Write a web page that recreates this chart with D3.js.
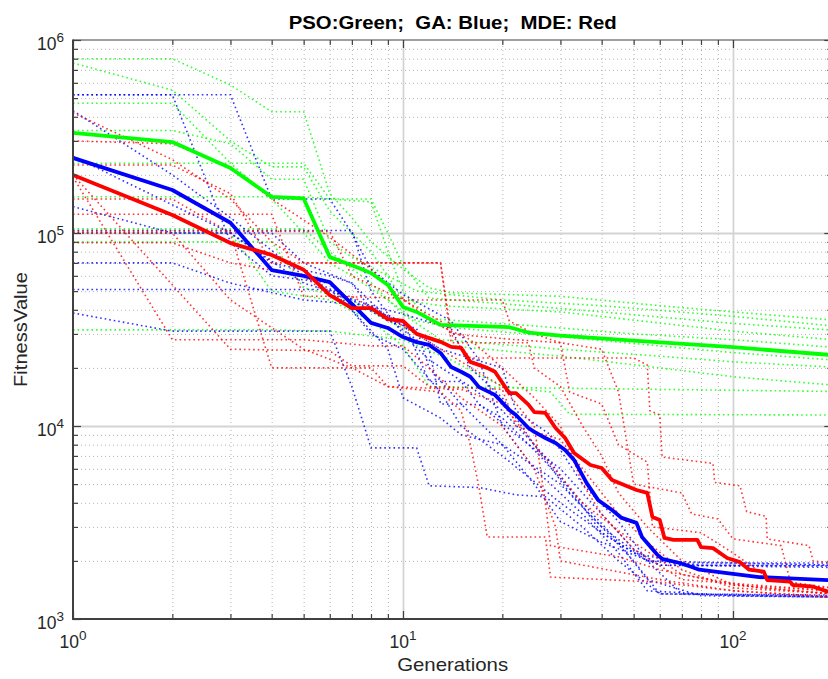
<!DOCTYPE html>
<html><head><meta charset="utf-8">
<script src="https://cdn.jsdelivr.net/npm/d3@7"></script>
<style>body{margin:0;background:#fff}svg{display:block}text{font-family:"Liberation Sans",Arial,Helvetica,sans-serif}</style>
</head><body><svg id="c" width="828" height="679"></svg>
<script>
// ---------- data ----------
const titleText = "PSO:Green;  GA: Blue;  MDE: Red";
const xLabel = "Generations";
const yLabel = "FitnessValue";
const xTickExp = [0, 1, 2];
const yTickExp = [3, 4, 5, 6];

const psoMeanGen = [1,2,3,4,5,6,7,8,9,10,11,13,21,24,30,50,100,200];
const psoMeanVal = [330000,296000,217000,154000,151000,75000,68000,62000,53800,41400,39000,33400,32500,30500,29400,27700,25600,23300];

const gaMeanGen = [1,2,3,4,5,6,8,9,10,11,12,13,14,15,16,17,19,21,22,24,25,27,29,31,33,36,39,43,46,51,53,59,61,69,75,79,96,120,200];
const gaMeanVal = [245000,167000,113000,64300,60000,55700,34200,32200,28900,27200,26300,23900,20200,19100,18000,15900,14500,12100,11400,9770,9320,8670,8170,7510,6670,5070,4140,3670,3340,3150,2660,2150,2050,1950,1860,1800,1730,1650,1585];

const mdeMeanGen = [1,2,3,4,5,6,7,8,9,10,11,13,14,15,16,18,19,21,22,24,25,27,29,31,33,37,40,43,51,55,57,60,62,66,78,80,87,96,105,112,124,127,149,152,175,193,200];
const mdeMeanVal = [200000,124000,88700,77000,64500,47700,40800,40800,35800,35000,30000,27300,25700,25400,21500,20000,19100,14800,14800,12900,11800,11700,9770,8670,7240,6280,6060,5250,4660,4500,3380,3260,2630,2570,2570,2360,2330,2070,1970,1800,1760,1590,1560,1500,1470,1390,1370];

// individual runs: [generation, fitness]
const psoRuns = [
 [[1,8.0e5],[2,8.0e5],[3,5.85e5],[4,4.25e5],[5,4.25e5],[6,1.6e5],[7,1.2e5],[8,9.0e4],[10,6.5e4],[12,5.2e4],[14,4.9e4],[30,4.7e4],[60,4.2e4],[100,3.9e4],[200,3.54e4]],
 [[1,7.6e5],[2,5.5e5],[3,3.0e5],[4,2.2e5],[5,2.2e5],[6,1.3e5],[7,1.0e5],[8,8.0e4],[9,6.0e4],[11,5.0e4],[20,4.5e4],[40,4.2e4],[100,3.7e4],[200,3.3e4]],
 [[1,4.7e5],[2,4.7e5],[3,2.3e5],[5,2.3e5],[6,1.5e5],[8,1.5e5],[9,1.0e5],[10,6.8e4],[12,4.6e4],[20,4.3e4],[40,3.9e4],[100,3.4e4],[200,3.14e4]],
 [[1,3.4e5],[2,3.4e5],[3,2.9e5],[4,1.9e5],[5,1.9e5],[6,9.0e4],[7,7.5e4],[9,6.0e4],[10,4.5e4],[13,4.2e4],[30,3.9e4],[100,3.1e4],[200,2.8e4]],
 [[1,1.54e5],[5,1.54e5],[6,1.5e5],[8,1.45e5],[9,8.0e4],[10,5.0e4],[12,3.6e4],[25,3.3e4],[50,3.0e4],[100,2.8e4],[200,2.56e4]],
 [[1,2.3e5],[3,2.3e5],[4,1.5e5],[5,1.0e5],[6,7.0e4],[7,6.0e4],[9,4.5e4],[11,3.5e4],[15,3.2e4],[30,2.9e4],[60,2.6e4],[100,2.4e4],[200,2.2e4]],
 [[1,1.05e5],[5,1.05e5],[6,8.0e4],[8,5.5e4],[10,3.8e4],[13,2.8e4],[30,2.5e4],[60,2.3e4],[100,2.15e4],[200,2.02e4]],
 [[1,9.0e4],[4,9.0e4],[5,5.2e4],[7,4.5e4],[9,3.5e4],[11,3.0e4],[14,2.6e4],[30,2.3e4],[60,2.0e4],[100,1.8e4],[200,1.63e4]],
 [[1,1.0e5],[3,1.0e5],[4,5.0e4],[6,4.5e4],[8,3.5e4],[10,2.6e4],[12,1.6e4],[200,1.51e4]],
 [[1,3.15e4],[4,3.15e4],[6,3.1e4],[10,2.8e4],[14,2.2e4],[20,1.6e4],[28,1.5e4],[32,1.15e4],[200,1.14e4]]
];
const gaRuns = [
 [[1,5.2e5],[2,5.2e5],[3,9.0e4],[4,6.0e4],[6,5.5e4],[8,3.0e4],[10,2.5e4],[13,1.5e4],[15,1.0e4],[20,7.0e3],[30,4.0e3],[40,2.8e3],[55,2.0e3],[80,1.9e3],[200,1.88e3]],
 [[1,5.2e5],[3,5.2e5],[4,1.5e5],[6,1.5e5],[7,1.0e5],[8,6.5e4],[10,4.8e4],[14,3.5e4],[17,2.2e4],[20,1.0e4],[25,6.0e3],[35,3.5e3],[45,2.2e3],[55,1.4e3],[100,1.32e3],[200,1.3e3]],
 [[1,4.3e5],[2,2.0e5],[3,1.2e5],[5,6.0e4],[7,4.5e4],[9,3.5e4],[11,3.2e4],[12,2.0e4],[15,1.3e4],[20,8.0e3],[30,5.0e3],[40,3.0e3],[50,2.0e3],[60,1.35e3],[200,1.33e3]],
 [[1,1.03e5],[7,1.03e5],[8,5.0e4],[10,3.0e4],[12,2.2e4],[16,1.6e4],[20,1.2e4],[28,6.5e3],[40,2.8e3],[50,2.2e3],[70,1.95e3],[200,1.95e3]],
 [[1,7.0e4],[2,7.0e4],[3,5.5e4],[5,4.5e4],[8,4.2e4],[11,3.0e4],[13,2.5e4],[20,2.0e4],[22,1.2e4],[28,9.0e3],[35,5.0e3],[45,3.2e3],[55,2.0e3],[70,1.35e3],[200,1.32e3]],
 [[1,5.1e4],[6,5.1e4],[7,4.0e4],[9,2.5e4],[10,1.4e4],[13,1.1e4],[15,9.0e3],[20,8.0e3],[25,5.0e3],[30,3.2e3],[40,2.5e3],[60,1.9e3],[200,1.85e3]],
 [[1,3.85e4],[2,3.1e4],[6,3.1e4],[7,1.6e4],[8,7.7e3],[11,7.7e3],[12,4.9e3],[17,4.8e3],[22,4.4e3],[27,4.3e3],[35,3.0e3],[45,2.0e3],[60,1.35e3],[200,1.3e3]],
 [[1,2.5e5],[2,1.4e5],[3,1.0e5],[5,5.5e4],[6,5.0e4],[8,4.2e4],[10,3.8e4],[14,3.2e4],[16,2.0e4],[20,1.4e4],[25,8.0e3],[32,4.5e3],[40,3.0e3],[55,2.0e3],[200,1.9e3]],
 [[1,1.37e5],[2,1.0e5],[4,1.0e5],[5,7.0e4],[7,5.5e4],[8,4.0e4],[10,3.5e4],[12,1.7e4],[15,1.7e4],[17,1.3e4],[22,9.0e3],[30,6.0e3],[40,3.5e3],[50,2.3e3],[60,1.9e3],[200,1.9e3]],
 [[1,1.0e5],[3,1.0e5],[4,7.0e4],[6,6.0e4],[7,5.5e4],[9,3.6e4],[12,2.5e4],[13,1.3e4],[17,1.29e4],[20,1.1e4],[26,7.0e3],[35,4.0e3],[45,2.5e3],[55,1.6e3],[80,1.32e3],[200,1.3e3]]
];
const mdeRuns = [
 [[1,4.2e5],[2,2.4e5],[3,1.5e5],[4,9.0e4],[5,7.0e4],[13,7.0e4],[14,2.7e4],[24,2.7e4],[25,2.0e4],[30,1.6e4],[35,1.0e4],[40,7.0e3],[45,4.5e3],[55,3.0e3],[70,2.0e3],[100,1.5e3],[200,1.4e3]],
 [[1,3.0e5],[2,2.9e5],[3,2.2e5],[4,1.5e5],[6,9.5e4],[8,6.5e4],[10,4.5e4],[13,3.5e4],[16,2.25e4],[50,2.25e4],[55,2.07e4],[56,1.2e4],[60,1.14e4],[61,6.9e3],[87,6.4e3],[88,5.1e3],[105,4.9e3],[110,3.6e3],[126,3.4e3],[127,2.6e3],[170,2.4e3],[175,2.0e3],[200,1.95e3]],
 [[1,1.0e5],[2,1.0e5],[3,4.5e4],[5,2.5e4],[7,2.0e4],[9,1.6e4],[13,1.5e4],[15,1.2e4],[16,8.0e3],[17,4.8e3],[18,2.66e3],[27,2.66e3],[28,1.65e3],[60,1.55e3],[100,1.4e3],[200,1.3e3]],
 [[1,1.25e5],[4,1.25e5],[5,4.7e4],[7,4.7e4],[10,3.3e4],[13,2.5e4],[20,1.6e4],[25,1.0e4],[27,4.0e3],[28,2.4e3],[45,2.1e3],[60,1.8e3],[100,1.5e3],[200,1.35e3]],
 [[1,1.95e5],[2,2.8e4],[5,2.8e4],[8,2.6e4],[10,2.6e4],[12,2.0e4],[15,1.4e4],[20,1.0e4],[25,6.0e3],[29,3.0e3],[30,2.0e3],[60,1.6e3],[100,1.4e3],[200,1.3e3]],
 [[1,2.0e5],[3,2.5e4],[6,2.45e4],[7,2.05e4],[10,2.05e4],[12,1.6e4],[20,1.55e4],[22,1.0e4],[30,8.5e3],[35,6.0e3],[45,3.5e3],[55,2.5e3],[70,1.8e3],[100,1.45e3],[200,1.35e3]],
 [[1,1.5e5],[2,1.5e5],[3,1.0e5],[4,2.0e4],[8,2.0e4],[9,1.6e4],[15,1.55e4],[20,1.3e4],[25,8.0e3],[35,4.0e3],[50,2.5e3],[70,1.7e3],[120,1.45e3],[200,1.35e3]],
 [[1,2.25e5],[2,2.25e5],[3,1.6e5],[4,7.0e4],[13,7.0e4],[14,3.0e4],[22,2.8e4],[30,2.7e4],[32,1.5e4],[40,1.3e4],[45,8.0e3],[55,6.5e3],[57,3.0e3],[80,2.8e3],[100,2.2e3],[130,1.6e3],[200,1.45e3]],
 [[1,8.9e4],[2,8.9e4],[3,7.0e4],[5,6.0e4],[6,4.7e4],[10,4.6e4],[12,3.5e4],[16,2.8e4],[20,2.0e4],[25,1.4e4],[30,1.0e4],[35,5.0e3],[40,3.5e3],[50,2.3e3],[70,1.6e3],[200,1.4e3]],
 [[1,1.02e5],[6,1.02e5],[7,6.0e4],[10,4.5e4],[20,4.5e4],[21,3.5e4],[25,3.0e4],[30,2.7e4],[40,2.5e4],[45,1.5e4],[50,5.0e3],[70,4.5e3],[75,3.5e3],[90,3.3e3],[100,2.6e3],[140,2.4e3],[150,1.5e3],[200,1.45e3]]
];

// ---------- chart ----------
const svg = d3.select('#c');
const L = 73, R = 832.3, T = 40, B = 619;
const x = d3.scaleLog().domain([1, 200]).range([L, R]);
const y = d3.scaleLog().domain([1e3, 1e6]).range([B, T]);

const xMajor = xTickExp.map(e => Math.pow(10, e));
const yMajor = yTickExp.map(e => Math.pow(10, e));
const xMinor = [], yMinor = [];
xMajor.forEach(d => { for (let k = 2; k <= 9; k++) if (k * d < 200) xMinor.push(k * d); });
yMajor.slice(0, 3).forEach(d => { for (let k = 2; k <= 9; k++) yMinor.push(k * d); });

const defs = svg.append('defs');
defs.append('clipPath').attr('id', 'clip').append('rect')
  .attr('x', L).attr('y', T).attr('width', R - L).attr('height', B - T);

// grid
function grid(axis, tr) {
  const g = svg.append('g').attr('transform', tr).call(axis);
  g.select('.domain').remove();
  g.selectAll('text').remove();
  return g.selectAll('line');
}
grid(d3.axisBottom(x).tickValues(xMinor).tickSize(-(B - T)).tickFormat(''), `translate(0,${B})`)
  .attr('stroke', '#b4b4b4').attr('stroke-width', 1).attr('stroke-dasharray', '1,3');
grid(d3.axisLeft(y).tickValues(yMinor).tickSize(-(R - L)).tickFormat(''), `translate(${L},0)`)
  .attr('stroke', '#b4b4b4').attr('stroke-width', 1).attr('stroke-dasharray', '1,3');
grid(d3.axisBottom(x).tickValues(xMajor.slice(1)).tickSize(-(B - T)).tickFormat(''), `translate(0,${B})`)
  .attr('stroke', '#d4d4d4').attr('stroke-width', 1.8);
grid(d3.axisLeft(y).tickValues(yMajor.slice(1, 3)).tickSize(-(R - L)).tickFormat(''), `translate(${L},0)`)
  .attr('stroke', '#d4d4d4').attr('stroke-width', 1.8);

// lines
const line = d3.line().x(d => x(d[0])).y(d => y(d[1]));
const plot = svg.append('g').attr('clip-path', 'url(#clip)');
const runSets = [[psoRuns, '#00ff00'], [gaRuns, '#0000ff'], [mdeRuns, '#ff0000']];
runSets.forEach(([runs, col]) => {
  plot.selectAll(null).data(runs).enter().append('path')
    .attr('d', line).attr('fill', 'none').attr('stroke', col)
    .attr('stroke-width', 1.6).attr('stroke-dasharray', '1.6,3').attr('opacity', 0.8);
});
const means = [[psoMeanGen, psoMeanVal, '#00ff00'], [gaMeanGen, gaMeanVal, '#0000ff'], [mdeMeanGen, mdeMeanVal, '#ff0000']];
means.forEach(([gs, vs, col]) => {
  plot.append('path').datum(gs.map((g, i) => [g, vs[i]]))
    .attr('d', line).attr('fill', 'none').attr('stroke', col)
    .attr('stroke-width', 3.8).attr('stroke-linejoin', 'round');
});

// axes (ticks inward)
function ticks(axis, tr) {
  const g = svg.append('g').attr('transform', tr).call(axis);
  g.select('.domain').remove();
  g.selectAll('text').remove();
  g.selectAll('line').attr('stroke', '#404040').attr('stroke-width', 1.2);
}
const tk = 8, tm = 5;
ticks(d3.axisBottom(x).tickValues(xMajor).tickSize(-tk), `translate(0,${B})`);
ticks(d3.axisBottom(x).tickValues(xMinor).tickSize(-tm), `translate(0,${B})`);
ticks(d3.axisTop(x).tickValues(xMajor).tickSize(-tk), `translate(0,${T})`);
ticks(d3.axisTop(x).tickValues(xMinor).tickSize(-tm), `translate(0,${T})`);
ticks(d3.axisLeft(y).tickValues(yMajor).tickSize(-tk), `translate(${L},0)`);
ticks(d3.axisLeft(y).tickValues(yMinor).tickSize(-tm), `translate(${L},0)`);
ticks(d3.axisRight(y).tickValues(yMajor).tickSize(-tk), `translate(${R},0)`);
ticks(d3.axisRight(y).tickValues(yMinor).tickSize(-tm), `translate(${R},0)`);

// box
svg.append('line').attr('x1', L).attr('x2', R).attr('y1', T).attr('y2', T).attr('stroke', '#404040').attr('stroke-width', 1.2);
svg.append('line').attr('x1', R).attr('x2', R).attr('y1', T).attr('y2', B).attr('stroke', '#404040').attr('stroke-width', 1.2);
svg.append('line').attr('x1', L).attr('x2', L).attr('y1', T - 0.6).attr('y2', B + 1).attr('stroke', '#404040').attr('stroke-width', 2);
svg.append('line').attr('x1', L - 1).attr('x2', R).attr('y1', B).attr('y2', B).attr('stroke', '#404040').attr('stroke-width', 2);

// tick labels
yTickExp.forEach(e => {
  const t = svg.append('text').attr('x', 64).attr('y', y(Math.pow(10, e)) + 10)
    .attr('text-anchor', 'end').attr('fill', '#262626').style('font-size', '17.5px');
  t.append('tspan').text('10');
  t.append('tspan').attr('dy', -8).style('font-size', '13.5px').text(e);
});
xTickExp.forEach(e => {
  const t = svg.append('text').attr('x', x(Math.pow(10, e))).attr('y', 648)
    .attr('text-anchor', 'middle').attr('fill', '#262626').style('font-size', '17.5px');
  t.append('tspan').text('10');
  t.append('tspan').attr('dy', -8).style('font-size', '13.5px').text(e);
});

// title & labels
svg.append('text').attr('x', (L + R) / 2).attr('y', 29).attr('text-anchor', 'middle')
  .attr('fill', '#000').style('font-size', '18.5px').style('font-weight', 'bold')
  .style('white-space', 'pre').attr('textLength', 328).attr('lengthAdjust', 'spacingAndGlyphs')
  .text(titleText);
svg.append('text').attr('x', (L + R) / 2).attr('y', 671).attr('text-anchor', 'middle')
  .attr('fill', '#262626').style('font-size', '18.5px')
  .attr('textLength', 111).attr('lengthAdjust', 'spacingAndGlyphs').text(xLabel);
svg.append('text').attr('transform', `translate(27,${(T + B) / 2}) rotate(-90)`).attr('text-anchor', 'middle')
  .attr('fill', '#262626').style('font-size', '18.5px')
  .attr('textLength', 115).attr('lengthAdjust', 'spacingAndGlyphs').text(yLabel);
</script>
</body></html>
